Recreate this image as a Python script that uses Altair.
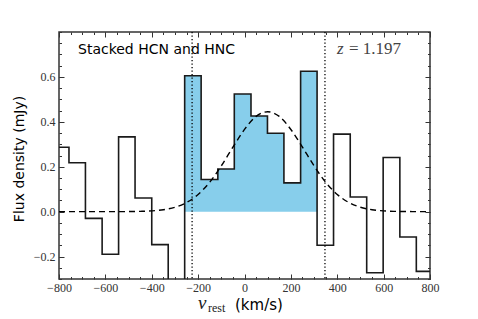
import altair as alt
import pandas as pd

# ---- data ----
bin_edges = [-828, -757, -686, -614, -543, -472, -400, -329, -258, -187, -115, -44,
             28, 99, 170, 242, 313, 384, 456, 527, 598, 670, 741, 812]
flux = [0.287, 0.218, -0.030, -0.190, 0.333, 0.061, -0.147, -0.420, 0.605, 0.143,
        0.190, 0.524, 0.426, 0.349, 0.128, 0.625, -0.150, 0.345, 0.065, -0.272,
        0.241, -0.113, -0.266]
fill_first, fill_last = 8, 15  # shaded channels (inclusive)

fit_v = [-800, -750, -700, -650, -600, -550, -500, -450, -400, -350, -300, -250,
         -200, -150, -100, -50, 0, 50, 100, 150, 200, 250, 300, 350, 400, 450,
         500, 550, 600, 650, 700, 750, 800]
fit_flux = [0.0, 0.0, 0.0, 0.0, 0.0, 0.0001, 0.0004, 0.0012, 0.0034, 0.0085, 0.0195,
            0.0407, 0.0767, 0.131, 0.204, 0.287, 0.366, 0.424, 0.445, 0.424, 0.366,
            0.287, 0.204, 0.131, 0.0767, 0.0407, 0.0195, 0.0085, 0.0034, 0.0012,
            0.0004, 0.0001, 0.0]
window_v = [-226, 347]

x_major = [-800, -600, -400, -200, 0, 200, 400, 600, 800]
x_minor = list(range(-800, 801, 50))
y_major = [-0.2, 0.0, 0.2, 0.4, 0.6]
y_minor = [-0.3, -0.25, -0.2, -0.15, -0.1, -0.05, 0.0, 0.05, 0.1, 0.15, 0.2, 0.25,
           0.3, 0.35, 0.4, 0.45, 0.5, 0.55, 0.6, 0.65, 0.7, 0.75, 0.8]

label_text = "Stacked HCN and HNC"
ylabel = "Flux density (mJy)"

# ---- tables ----
step_df = pd.DataFrame({"v": bin_edges, "f": flux + [flux[-1]]})
fill_df = pd.DataFrame({
    "v": bin_edges[fill_first:fill_last + 2],
    "f": flux[fill_first:fill_last + 1] + [flux[fill_last]],
})
fill_df["zero"] = 0.0
fit_df = pd.DataFrame({"v": fit_v, "f": fit_flux})
win_df = pd.DataFrame({"v": window_v})

xs = alt.Scale(domain=[-800, 800], nice=False, zero=False)
ys = alt.Scale(domain=[-0.3, 0.8], nice=False, zero=False)

TICK = "#333333"
SERIF = "Liberation Serif"
SANS = "DejaVu Sans"


def ax(orient, values, size, labels, fmt):
    kw = dict(orient=orient, values=values, tickSize=size, offset=-size,
              domain=False, grid=False, labels=labels, title=None,
              tickColor=TICK, tickWidth=1)
    if labels:
        kw.update(labelFont=SERIF, labelFontSize=12, labelColor="#333333",
                  labelFlush=False, labelOverlap=False, labelFontWeight="normal",
                  labelPadding=3 if orient in ("bottom", "top") else 4, format=fmt)
    return alt.Axis(**kw)


area = alt.Chart(fill_df).mark_area(interpolate="step-after", color="#87CEEB").encode(
    x=alt.X("v:Q", scale=xs, axis=None),
    y=alt.Y("f:Q", scale=ys, axis=None),
    y2="zero:Q",
)

step = alt.Chart(step_df).mark_line(
    interpolate="step-after", color="#1a1a1a", strokeWidth=1.6, clip=True
).encode(
    x=alt.X("v:Q", scale=xs, axis=ax("bottom", x_major, 5, True, "d")),
    y=alt.Y("f:Q", scale=ys, axis=ax("left", y_major, 5, True, ".1f")),
)

fit = alt.Chart(fit_df).mark_line(
    color="black", strokeWidth=1.4, strokeDash=[6, 4], interpolate="monotone", clip=True
).encode(
    x=alt.X("v:Q", scale=xs, axis=None),
    y=alt.Y("f:Q", scale=ys, axis=None),
)

rules = alt.Chart(win_df).mark_rule(
    color="black", strokeWidth=1.3, strokeDash=[1.3, 2.2]
).encode(x=alt.X("v:Q", scale=xs, axis=None))

top_right_major = alt.Chart(step_df).mark_point(opacity=0, clip=True).encode(
    x=alt.X("v:Q", scale=xs, axis=ax("top", x_major, 5, False, "d")),
    y=alt.Y("f:Q", scale=ys, axis=ax("right", y_major, 5, False, ".1f")),
)
bottom_left_minor = alt.Chart(step_df).mark_point(opacity=0, clip=True).encode(
    x=alt.X("v:Q", scale=xs, axis=ax("bottom", x_minor, 2.5, False, "d")),
    y=alt.Y("f:Q", scale=ys, axis=ax("left", y_minor, 2.5, False, ".1f")),
)
top_right_minor = alt.Chart(step_df).mark_point(opacity=0, clip=True).encode(
    x=alt.X("v:Q", scale=xs, axis=ax("top", x_minor, 2.5, False, "d")),
    y=alt.Y("f:Q", scale=ys, axis=ax("right", y_minor, 2.5, False, ".1f")),
)

one = pd.DataFrame({"a": [0]})


def txt(text, x, y, **kw):
    return alt.Chart(one).mark_text(text=text, **kw).encode(
        x=alt.value(x), y=alt.value(y))


t_label = txt(label_text, 19, 22, font=SANS, fontSize=14, align="left",
              baseline="alphabetic", color="black")
t_z = txt("z", 278, 22, font=SERIF, fontSize=17, fontStyle="italic", align="left",
          baseline="alphabetic", color="#444444")
t_zval = txt("= 1.197", 290, 22, font=SERIF, fontSize=17, align="left",
             baseline="alphabetic", color="#444444")
t_ylab = txt(ylabel, -39, 127, font=SANS, fontSize=14, angle=270, align="center",
             baseline="middle", color="black")
t_v = txt("v", 139, 277, font=SERIF, fontSize=19, fontStyle="italic", align="left",
          baseline="alphabetic", color="#222222")
t_rest = txt("rest", 149, 280, font=SERIF, fontSize=12, align="left",
             baseline="alphabetic", color="#222222")
t_units = txt("(km/s)", 176, 278, font=SANS, fontSize=15, align="left",
              baseline="alphabetic", color="black")

chart = alt.layer(
    area, step, fit, rules, top_right_major, bottom_left_minor, top_right_minor,
    t_label, t_z, t_zval, t_ylab, t_v, t_rest, t_units,
).resolve_axis(x="independent", y="independent").properties(
    width=371, height=247,
    autosize=alt.AutoSizeParams(type="none"),
    padding={"left": 51, "top": 24, "right": 40, "bottom": 40},
).configure_view(stroke="#333333", strokeWidth=1.5).configure_axis(
    labelFont=SERIF, labelFontSize=12
)

chart.save("out.html", embed_options={"renderer": "svg", "actions": False})
